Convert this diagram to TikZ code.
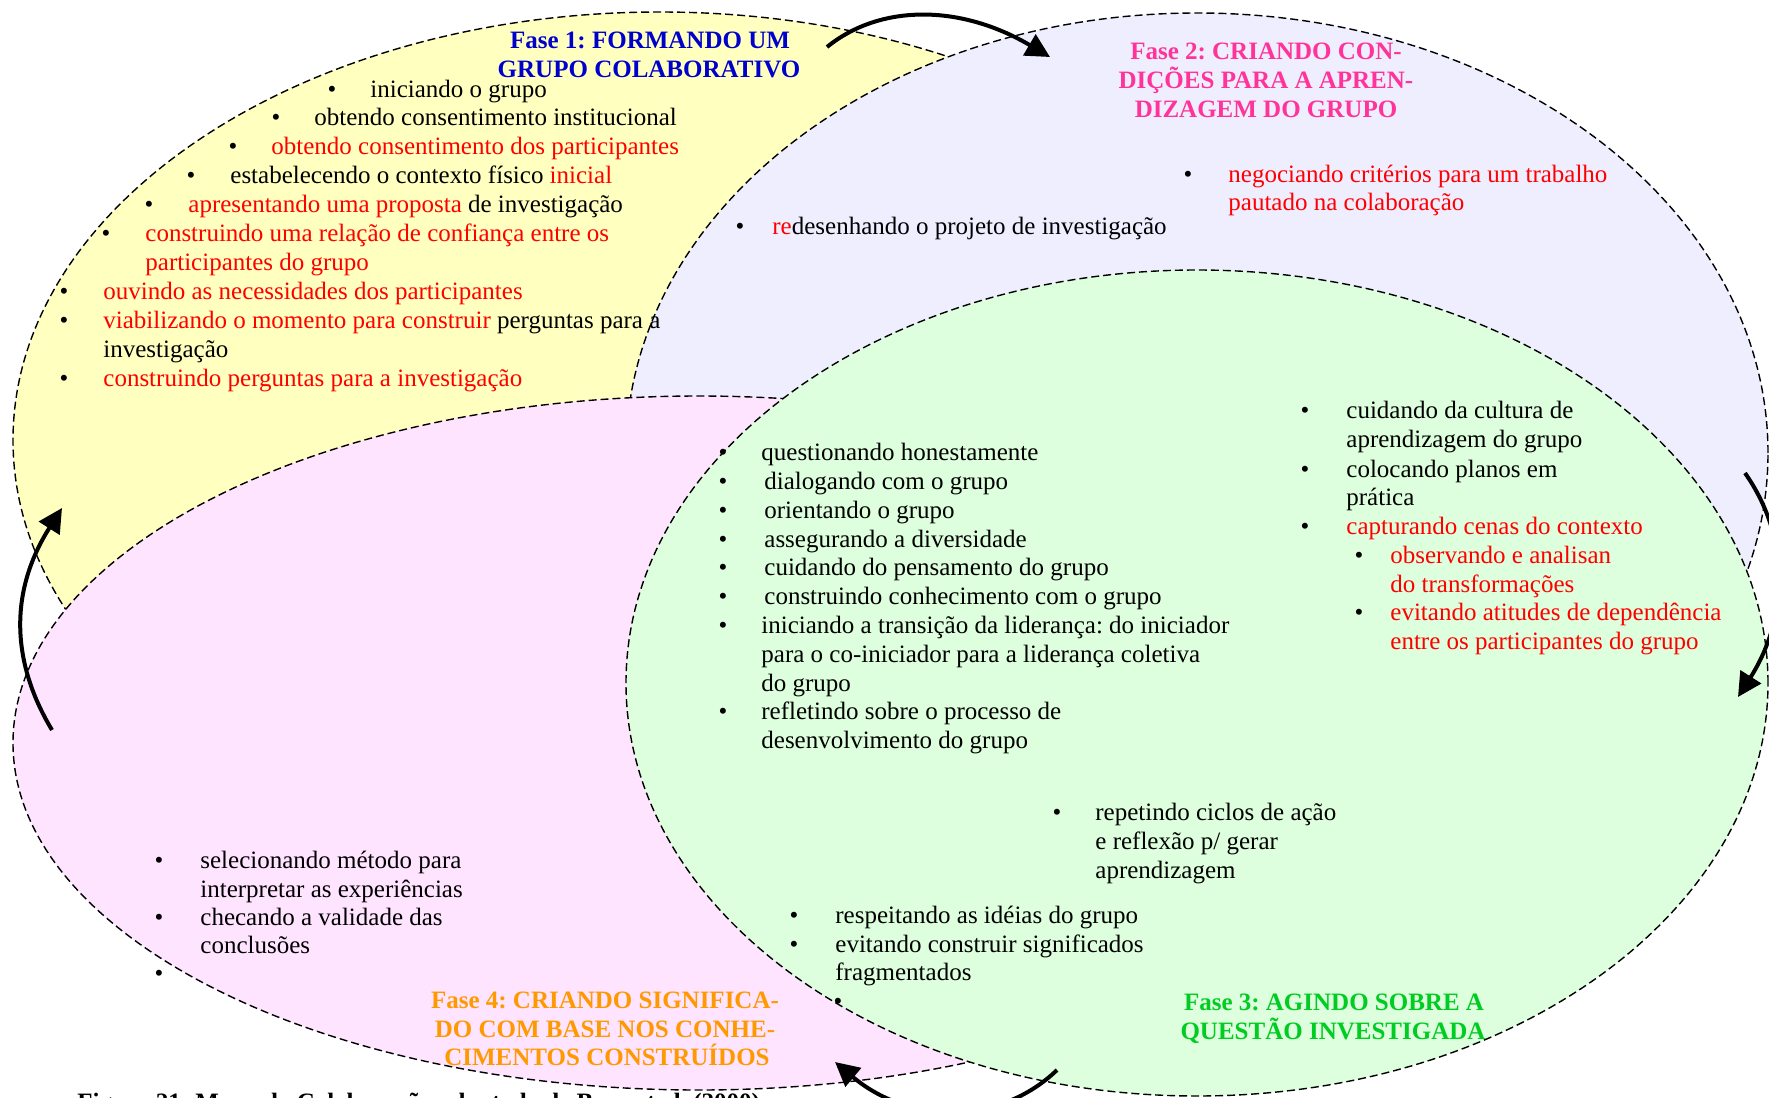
\documentclass[tikz,border=0pt]{standalone}
\usepackage{fontspec}
\setmainfont{Liberation Serif}
\usetikzlibrary{arrows.meta}
\definecolor{fyel}{HTML}{FFFFC0}
\definecolor{fblu}{HTML}{EEEEFF}
\definecolor{fpnk}{HTML}{FFE4FF}
\definecolor{fgrn}{HTML}{DDFFDD}
\definecolor{tblu}{HTML}{0000CC}
\definecolor{tpnk}{HTML}{FF3399}
\definecolor{tgrn}{HTML}{00CC22}
\definecolor{torg}{HTML}{FF9900}
\definecolor{tred}{HTML}{FF0000}
\newcommand{\rd}[1]{\textcolor{tred}{#1}}
\frenchspacing
\begin{document}
\begin{tikzpicture}[x=0.5pt,y=-0.5pt,
 phase/.style={draw=black, line width=0.7pt, dash pattern=on 4pt off 2pt},
 txt/.style={anchor=base west, inner sep=0pt, font=\fontsize{12.5}{14}\selectfont},
 rtxt/.style={txt, text=tred},
 bul/.style={anchor=base, inner sep=0pt, font=\fontsize{12.5}{14}\selectfont},
 ttl/.style={anchor=base, inner sep=0pt, font=\fontsize{12.5}{14}\selectfont\bfseries},
 cyc/.style={line width=2pt, -{Triangle[length=12pt,width=12pt]}}
]
\useasboundingbox[fill=white] (0,0) rectangle (1769,1098);

% phases
\draw[phase, fill=fyel] (660,440) ellipse [x radius=323.5pt, y radius=214pt];
\draw[phase, fill=fblu] (1197,453) ellipse [x radius=285.5pt, y radius=220pt];
\draw[phase, fill=fpnk] (699,743) ellipse [x radius=343pt, y radius=173.5pt];
\draw[phase, fill=fgrn] (1197,683) ellipse [x radius=285.5pt, y radius=206.5pt];

% titles
\node[ttl, text=tblu] (t1a) at (650,48) {Fase 1: FORMANDO UM};
\node[ttl, text=tblu] (t1b) at (649,77) {GRUPO COLABORATIVO};
\node[ttl, text=tpnk] (t2a) at (1266,59) {Fase 2: CRIANDO CON-};
\node[ttl, text=tpnk] (t2b) at (1266,88) {DIÇÕES PARA A APREN-};
\node[ttl, text=tpnk] (t2c) at (1266,117) {DIZAGEM DO GRUPO};
\node[ttl, text=tgrn] (t3a) at (1334,1010) {Fase 3: AGINDO SOBRE A};
\node[ttl, text=tgrn] (t3b) at (1333,1039) {QUESTÃO INVESTIGADA};
\node[ttl, text=torg] (t4a) at (605,1008) {Fase 4: CRIANDO SIGNIFICA-};
\node[ttl, text=torg] (t4b) at (605,1037) {DO COM BASE NOS CONHE-};
\node[ttl, text=torg] (t4c) at (607,1065) {CIMENTOS CONSTRUÍDOS};

% phase 1 items
\node[bul] (b11) at (332,97) {•};
\node[txt] (p11) at (370,97) {iniciando o grupo};
\node[bul] (b12) at (276,125) {•};
\node[txt] (p12) at (314,125) {obtendo consentimento institucional};
\node[bul] (b13) at (233,154) {•};
\node[rtxt] (p13) at (271,154) {obtendo consentimento dos participantes};
\node[bul] (b14) at (191,183) {•};
\node[txt] (p14) at (230,183) {estabelecendo o contexto físico \rd{inicial}};
\node[bul] (b15) at (149,212) {•};
\node[txt] (p15) at (188,212) {\rd{apresentando uma proposta} de investigação};
\node[bul] (b16) at (106,241) {•};
\node[rtxt] (p16a) at (145,241) {construindo uma relação de confiança entre os};
\node[rtxt] (p16b) at (145,270) {participantes do grupo};
\node[bul] (b17) at (64,299) {•};
\node[rtxt] (p17) at (103,299) {ouvindo as necessidades dos participantes};
\node[bul] (b18) at (64,328) {•};
\node[txt] (p18a) at (103,328) {\rd{viabilizando o momento para construir} perguntas para a};
\node[txt] (p18b) at (103,357) {investigação};
\node[bul] (b19) at (64,386) {•};
\node[rtxt] (p19) at (103,386) {construindo perguntas para a investigação};

% phase 2 items
\node[bul] (b21) at (1188,182) {•};
\node[rtxt] (p21a) at (1228,182) {negociando critérios para um trabalho};
\node[rtxt] (p21b) at (1228,210) {pautado na colaboração};
\node[bul] (b22) at (740,234) {•};
\node[txt] (p22) at (772,234) {\rd{re}desenhando o projeto de investigação};

% phase 3 items, left column
\node[bul] (b31) at (723,460) {•};
\node[txt] (p31) at (761,460) {questionando honestamente};
\node[bul] (b32) at (723,489) {•};
\node[txt] (p32) at (764,489) {dialogando com o grupo};
\node[bul] (b33) at (723,518) {•};
\node[txt] (p33) at (764,518) {orientando o grupo};
\node[bul] (b34) at (723,547) {•};
\node[txt] (p34) at (764,547) {assegurando a diversidade};
\node[bul] (b35) at (723,575) {•};
\node[txt] (p35) at (764,575) {cuidando do pensamento do grupo};
\node[bul] (b36) at (723,604) {•};
\node[txt] (p36) at (764,604) {construindo conhecimento com o grupo};
\node[bul] (b37) at (723,633) {•};
\node[txt] (p37a) at (761,633) {iniciando a transição da liderança: do iniciador};
\node[txt] (p37b) at (761,662) {para o co-iniciador para a liderança coletiva};
\node[txt] (p37c) at (761,691) {do grupo};
\node[bul] (b38) at (723,719) {•};
\node[txt] (p38a) at (761,719) {refletindo sobre o processo de};
\node[txt] (p38b) at (761,748) {desenvolvimento do grupo};

% phase 3 items, right column
\node[bul] (b41) at (1305,418) {•};
\node[txt] (p41a) at (1346,418) {cuidando da cultura de};
\node[txt] (p41b) at (1346,447) {aprendizagem do grupo};
\node[bul] (b42) at (1305,477) {•};
\node[txt] (p42a) at (1346,477) {colocando planos em};
\node[txt] (p42b) at (1346,505) {prática};
\node[bul] (b43) at (1305,534) {•};
\node[rtxt] (p43) at (1346,534) {capturando cenas do contexto};
\node[bul] (b44) at (1359,563) {•};
\node[rtxt] (p44a) at (1390,563) {observando e analisan};
\node[rtxt] (p44b) at (1390,592) {do transformações};
\node[bul] (b45) at (1359,620) {•};
\node[rtxt] (p45a) at (1390,620) {evitando atitudes de dependência};
\node[rtxt] (p45b) at (1390,649) {entre os participantes do grupo};

% phase 3 lower items
\node[bul] (b51) at (1057,820) {•};
\node[txt] (p51a) at (1095,820) {repetindo ciclos de ação};
\node[txt] (p51b) at (1095,849) {e reflexão p/ gerar};
\node[txt] (p51c) at (1095,878) {aprendizagem};
\node[bul] (b52) at (794,923) {•};
\node[txt] (p52) at (835,923) {respeitando as idéias do grupo};
\node[bul] (b53) at (794,952) {•};
\node[txt] (p53a) at (835,952) {evitando construir significados};
\node[txt] (p53b) at (835,980) {fragmentados};
\node[bul] (b54) at (838,1009) {•};

% phase 4 items
\node[bul] (b61) at (159,868) {•};
\node[txt] (p61a) at (200,868) {selecionando método para};
\node[txt] (p61b) at (200,897) {interpretar as experiências};
\node[bul] (b62) at (159,925) {•};
\node[txt] (p62a) at (200,925) {checando a validade das};
\node[txt] (p62b) at (200,953) {conclusões};
\node[bul] (b63) at (159,981) {•};

% cycle arrows
\coordinate (a1s) at (827,47);
\coordinate (a1e) at (1050,57);
\coordinate (a2s) at (1745,473);
\coordinate (a2e) at (1738,697);
\coordinate (a3s) at (1057,1070);
\coordinate (a3e) at (835,1062);
\coordinate (a4s) at (52,730);
\coordinate (a4e) at (62,508);
\draw[cyc] (a1s) .. controls (880,4) and (960,4) .. (a1e);
\draw[cyc] (a2s) .. controls (1792,540) and (1787,620) .. (a2e);
\draw[cyc] (a3s) .. controls (1000,1125) and (910,1125) .. (a3e);
\draw[cyc] (a4s) .. controls (10,660) and (10,590) .. (a4e);

% caption (cut off at the lower edge, as in the reference)
\node[ttl, anchor=base west] (cap) at (77,1110) {Figura 21: Mapa da Colaboração adaptado de Bray et al. (2000)};
\end{tikzpicture}
\end{document}
